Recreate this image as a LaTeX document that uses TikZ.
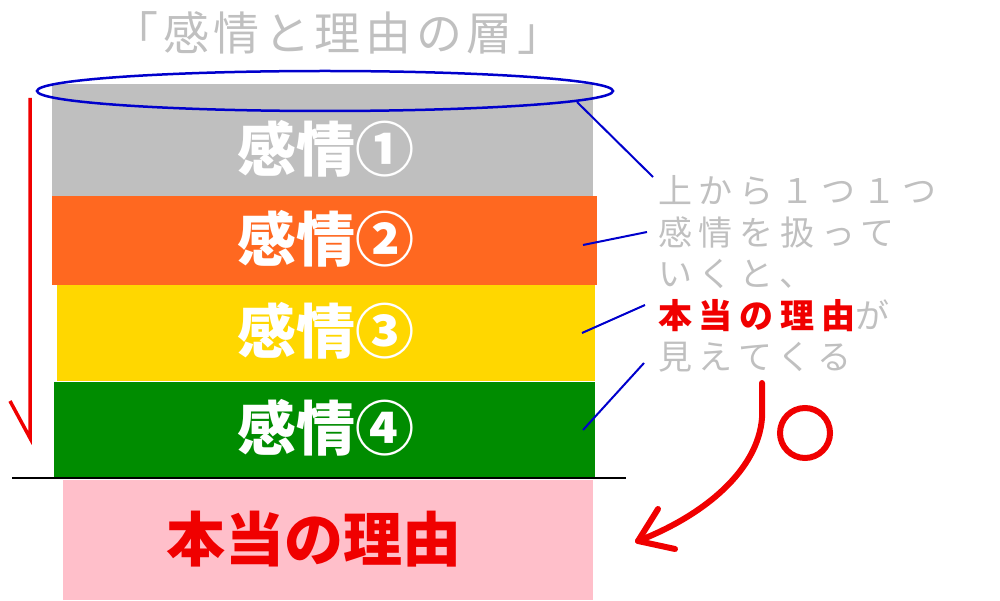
\documentclass[tikz,border=0pt]{standalone}
\usepackage{fontspec}
\setmainfont{Noto Sans CJK JP}
\newfontfamily\notefont[LetterSpace=20]{Noto Sans CJK JP}
\newfontfamily\titlefont[LetterSpace=10]{Noto Sans CJK JP}
\usetikzlibrary{shapes.geometric}

\definecolor{laygray}{HTML}{BFBFBF}
\definecolor{layorange}{HTML}{FF6820}
\definecolor{layyellow}{HTML}{FFD700}
\definecolor{laygreen}{HTML}{008C00}
\definecolor{laypink}{HTML}{FFBFCA}
\definecolor{txtgray}{HTML}{C0C0C0}
\definecolor{linkblue}{HTML}{0000CC}
\definecolor{markred}{HTML}{F00000}

\begin{document}
\begin{tikzpicture}[x=1pt,y=-1pt,
    layer/.style={inner sep=0pt, outer sep=0pt},
    laytext/.style={inner sep=0pt, text=white, font=\bfseries\fontsize{59}{59}\selectfont},
    note/.style={anchor=base west, inner sep=0pt, text=txtgray, font=\notefont\fontsize{34}{34}\selectfont},
    link/.style={draw=linkblue, line width=2pt},
    redmark/.style={draw=markred, line width=6pt, line cap=round, line join=round}]

    \useasboundingbox (0,0) rectangle (1000,601);

    \node[layer, fill=laygray,   minimum width=541pt, minimum height=112pt] (l1) at (322.5,140) {};
    \node[layer, fill=layorange, minimum width=545pt, minimum height=89pt]  (l2) at (324.5,240.5) {};
    \node[layer, fill=layyellow, minimum width=538pt, minimum height=96pt]  (l3) at (326,333) {};
    \node[layer, fill=laygreen,  minimum width=541pt, minimum height=95pt]  (l4) at (324.5,429.5) {};
    \node[layer, fill=laypink,   minimum width=530pt, minimum height=120pt] (l5) at (328,540) {};

    \node[laytext] (t1) at (326,149) {感情①};
    \node[laytext] (t2) at (326,239) {感情②};
    \node[laytext] (t3) at (326,331) {感情③};
    \node[laytext] (t4) at (326,428) {感情④};
    \node[laytext, text=markred, font=\bfseries\fontsize{59}{59}\selectfont] (t5) at (314,539) {本当の理由};

    \node[ellipse, draw=linkblue, line width=2.5pt, inner sep=0pt, minimum width=576pt, minimum height=40pt] (top) at (325,91) {};
    \node[inner sep=0pt, text=txtgray, font=\titlefont\fontsize{46}{46}\selectfont] (title) at (338,33) {「感情と理由の層」};

    \coordinate (g0) at (12,478);
    \coordinate (g1) at (626,478);
    \draw[line width=2.5pt] (g0) -- (g1);

    \node[note] (n1) at (658,204) {上から１つ１つ};
    \node[note] (n2) at (658,246) {感情を扱って};
    \node[note] (n3) at (658,287) {いくと、};
    \node[note] (n4) at (658,328) {{\color{markred}\bfseries 本当の理由}が};
    \node[note] (n5) at (658,369) {見えてくる};

    \coordinate (b1) at (577,102);
    \coordinate (e1) at (653,177);
    \coordinate (b2) at (583,245);
    \coordinate (e2) at (647,232);
    \coordinate (b3) at (582,333);
    \coordinate (e3) at (645,305);
    \coordinate (b4) at (583,430);
    \coordinate (e4) at (644,363);
    \draw[link] (b1) -- (e1);
    \draw[link] (b2) -- (e2);
    \draw[link] (b3) -- (e3);
    \draw[link] (b4) -- (e4);

    \coordinate (a0) at (30,98);
    \coordinate (a1) at (30,438);
    \coordinate (a2) at (10,401);
    \draw[draw=markred, line width=3.5pt] (a0) -- (a1) -- (a2);

    \coordinate (c0) at (762,383);
    \coordinate (c1) at (762,418);
    \coordinate (c2) at (638,541);
    \coordinate (c3) at (658,509);
    \coordinate (c4) at (675,549);
    \draw[redmark] (c0) -- (c1) .. controls (758,470) and (705,515) .. (c2);
    \draw[redmark] (c3) -- (c2) -- (c4);

    \node[circle, draw=markred, line width=6pt, inner sep=0pt, minimum size=50pt] (ok) at (805,433) {};

\end{tikzpicture}
\end{document}
